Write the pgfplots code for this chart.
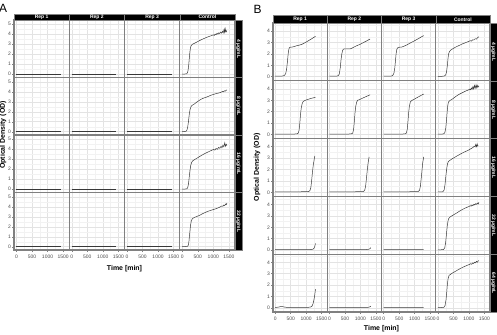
\documentclass[border=0pt]{standalone}
\usepackage{pgfplots}
\pgfplotsset{compat=1.18}
\usepackage{fontspec}
\setmainfont{Liberation Sans}

\definecolor{panelgrid}{gray}{0.89}
\definecolor{panelminor}{gray}{0.95}
\definecolor{panelframe}{gray}{0.50}
\definecolor{ticktext}{gray}{0.30}
\definecolor{trace}{gray}{0.22}

\pgfplotsset{
  facet/.style={
    scale only axis, anchor=north west,
    xmin=-80, xmax=1700,
    xtick={0,500,1000,1500}, minor xtick={250,750,1250},
    grid=both,
    major grid style={draw=panelgrid, line width=0.45bp},
    minor grid style={draw=panelminor, line width=0.35bp},
    axis line style={draw=panelframe, line width=1.3bp},
    tick align=outside, xtick pos=bottom, ytick pos=left,
    major tick length=2bp, minor tick length=0pt,
    tick style={line width=0.4bp},
    x tick style={draw=none}, y tick style={draw=none},
    xticklabels={}, yticklabels={},
    /pgf/number format/assume math mode=true,
    /pgf/number format/1000 sep={},
    ticklabel style={font=\fontsize{5}{5}\selectfont, text=ticktext},
    xticklabel style={inner sep=1bp, yshift=-2bp},
    yticklabel style={inner sep=1bp},
  },
  panelA/.style={facet, width=55.25bp, height=57.5bp,
    ymin=-0.33, ymax=5.43, ytick={0,...,5}, minor ytick={0.5,1.5,...,4.5}},
  panelB/.style={facet, width=54.25bp, height=57.8bp, xmin=-70, xmax=1680,
    ymin=-0.36, ymax=4.71, ytick={0,...,4}, minor ytick={0.5,1.5,...,4.5}},
  leftcol/.style={y tick style={draw=panelframe}, yticklabel={\pgfmathprintnumber{\tick}}},
  bottomrow/.style={x tick style={draw=panelframe}, xticklabel={\pgfmathprintnumber{\tick}}},
  odline/.style={draw=trace, line width=0.5bp, no marks},
}

% one facet: x, y (top-left corner, bp), axis options, growth-curve coordinates
\newcommand{\facet}[4]{%
  \begin{axis}[at={(#1bp,#2bp)}, #3]
    \addplot[odline] coordinates {#4};
  \end{axis}}

\newcommand{\flatA}{(0,0.03)(480,0.03)(960,0.03)(1440,0.03)}

\begin{document}
\begin{tikzpicture}[x=1bp, y=1bp]
\useasboundingbox (0,0) rectangle (497,334);

% ---------------- Panel A ----------------
% 4 ug/mL
\facet{14}{314}{panelA, leftcol}{\flatA}
\facet{69.25}{314}{panelA}{\flatA}
\facet{124.5}{314}{panelA}{\flatA}
\facet{179.75}{314}{panelA}{(0,0.02)(80,0.02)(140,0.04)(165,0.12)(185,0.35)(205,0.8)(225,1.5)(245,2.2)(265,2.65)(290,2.88)(320,2.98)(360,3.05)(420,3.14)(500,3.27)(580,3.4)(660,3.52)(740,3.63)(820,3.73)(900,3.82)(960,3.88)(1000,3.95)(1030,3.88)(1060,4.02)(1090,3.95)(1120,4.1)(1150,4.0)(1180,4.15)(1210,4.08)(1240,4.22)(1270,4.12)(1300,4.3)(1320,4.15)(1345,4.45)(1365,4.2)(1380,4.7)(1395,4.25)(1415,4.38)(1440,4.2)}
% 8 ug/mL
\facet{14}{256.5}{panelA, leftcol}{\flatA}
\facet{69.25}{256.5}{panelA}{\flatA}
\facet{124.5}{256.5}{panelA}{\flatA}
\facet{179.75}{256.5}{panelA}{(0,0.02)(80,0.02)(120,0.04)(150,0.15)(175,0.45)(200,1.0)(225,1.7)(250,2.2)(280,2.5)(320,2.65)(380,2.75)(460,2.95)(540,3.12)(620,3.27)(700,3.38)(785,3.47)(870,3.58)(950,3.68)(1030,3.76)(1110,3.83)(1180,3.88)(1220,3.92)(1260,3.97)(1300,4.03)(1330,4.0)(1360,4.1)(1390,4.06)(1420,4.15)(1440,4.2)}
% 16 ug/mL
\facet{14}{199}{panelA, leftcol}{\flatA}
\facet{69.25}{199}{panelA}{\flatA}
\facet{124.5}{199}{panelA}{\flatA}
\facet{179.75}{199}{panelA}{(0,0.02)(100,0.02)(150,0.04)(175,0.15)(200,0.5)(225,1.2)(250,1.9)(275,2.4)(305,2.7)(340,2.85)(400,2.97)(480,3.12)(560,3.27)(640,3.42)(720,3.56)(800,3.68)(880,3.8)(950,3.9)(1010,3.98)(1050,3.92)(1090,4.08)(1130,4.0)(1170,4.18)(1210,4.1)(1250,4.3)(1280,4.15)(1310,4.4)(1340,4.25)(1370,4.65)(1395,4.3)(1420,4.5)(1440,4.38)}
% 32 ug/mL
\facet{14}{141.5}{panelA, leftcol, bottomrow}{\flatA}
\facet{69.25}{141.5}{panelA, bottomrow}{\flatA}
\facet{124.5}{141.5}{panelA, bottomrow}{\flatA}
\facet{179.75}{141.5}{panelA, bottomrow}{(0,0.02)(100,0.02)(170,0.04)(195,0.15)(215,0.5)(240,1.3)(265,2.1)(290,2.55)(320,2.78)(360,2.88)(420,2.97)(500,3.07)(565,3.15)(650,3.3)(740,3.43)(820,3.54)(900,3.62)(1000,3.72)(1080,3.8)(1150,3.88)(1200,3.95)(1240,4.02)(1280,4.08)(1310,4.05)(1340,4.18)(1370,4.12)(1400,4.28)(1420,4.22)(1440,4.37)}

% ---------------- Panel B ----------------
% 4 ug/mL
\facet{273}{311}{panelB, leftcol}{(0,0.04)(100,0.04)(200,0.05)(260,0.07)(300,0.12)(340,0.27)(370,0.7)(395,1.3)(415,1.9)(430,2.25)(450,2.5)(480,2.58)(550,2.6)(620,2.65)(700,2.72)(780,2.77)(860,2.84)(940,2.95)(1020,3.07)(1100,3.2)(1180,3.33)(1250,3.45)(1300,3.55)}
\facet{327.25}{311}{panelB}{(0,0.04)(120,0.04)(240,0.05)(290,0.1)(320,0.25)(350,0.8)(375,1.5)(400,2.0)(425,2.3)(450,2.42)(520,2.45)(600,2.43)(680,2.45)(740,2.52)(820,2.64)(900,2.74)(990,2.84)(1080,2.97)(1160,3.08)(1240,3.2)(1310,3.3)}
\facet{381.5}{311}{panelB}{(0,0.04)(120,0.04)(240,0.05)(290,0.1)(330,0.3)(360,0.8)(380,1.4)(400,2.0)(420,2.35)(445,2.52)(500,2.58)(580,2.6)(660,2.68)(740,2.78)(820,2.9)(900,3.02)(980,3.13)(1060,3.25)(1140,3.37)(1220,3.5)(1290,3.6)}
\facet{435.75}{311}{panelB}{(0,0.03)(100,0.03)(200,0.05)(250,0.15)(280,0.45)(305,1.0)(325,1.6)(345,2.0)(370,2.2)(410,2.33)(460,2.42)(540,2.55)(620,2.66)(700,2.76)(780,2.87)(860,2.95)(940,3.04)(1000,3.1)(1040,3.16)(1080,3.12)(1120,3.24)(1160,3.22)(1200,3.33)(1240,3.3)(1280,3.42)(1320,3.5)}
% 8 ug/mL
\facet{273}{253.2}{panelB, leftcol}{(0,0.04)(200,0.04)(400,0.04)(600,0.04)(700,0.05)(740,0.1)(770,0.35)(795,1.0)(815,1.7)(840,2.3)(870,2.7)(900,2.88)(940,2.96)(1000,3.03)(1080,3.1)(1160,3.17)(1240,3.22)(1300,3.27)}
\facet{327.25}{253.2}{panelB}{(0,0.04)(200,0.04)(400,0.04)(600,0.04)(700,0.05)(750,0.12)(780,0.45)(805,1.2)(825,1.9)(850,2.5)(880,2.85)(910,3.0)(960,3.05)(1040,3.15)(1120,3.25)(1200,3.35)(1260,3.42)(1312,3.48)}
\facet{381.5}{253.2}{panelB}{(0,0.04)(200,0.04)(400,0.04)(600,0.04)(690,0.05)(730,0.12)(760,0.45)(785,1.2)(805,1.9)(830,2.5)(860,2.85)(900,2.98)(960,3.05)(1040,3.18)(1120,3.3)(1200,3.42)(1290,3.55)}
\facet{435.75}{253.2}{panelB}{(0,0.03)(100,0.03)(180,0.05)(220,0.15)(250,0.5)(275,1.2)(295,1.9)(315,2.5)(340,2.85)(384,2.98)(450,3.08)(520,3.22)(600,3.38)(680,3.52)(760,3.63)(840,3.74)(920,3.84)(980,3.9)(1020,3.98)(1050,3.92)(1080,4.08)(1100,3.95)(1130,4.2)(1150,4.0)(1180,4.3)(1200,4.05)(1230,4.35)(1250,4.1)(1270,4.3)(1290,4.15)(1310,4.25)(1322,4.2)}
% 16 ug/mL
\facet{273}{195.4}{panelB, leftcol}{(0,0.04)(300,0.04)(600,0.04)(900,0.05)(1080,0.06)(1120,0.15)(1150,0.4)(1175,1.0)(1200,1.7)(1225,2.3)(1250,2.75)(1280,3.2)}
\facet{327.25}{195.4}{panelB}{(0,0.04)(300,0.04)(600,0.04)(900,0.05)(1100,0.07)(1140,0.2)(1165,0.5)(1190,1.1)(1215,1.8)(1240,2.4)(1260,2.8)(1280,3.1)}
\facet{381.5}{195.4}{panelB}{(0,0.04)(300,0.04)(600,0.04)(900,0.05)(1120,0.07)(1160,0.2)(1185,0.55)(1210,1.2)(1235,1.9)(1255,2.5)(1275,2.85)(1290,3.1)}
\facet{435.75}{195.4}{panelB}{(0,0.03)(100,0.03)(160,0.05)(200,0.2)(230,0.7)(255,1.4)(280,2.0)(305,2.45)(335,2.7)(384,2.8)(450,2.92)(530,3.05)(610,3.18)(690,3.3)(770,3.42)(850,3.53)(930,3.63)(1000,3.72)(1060,3.82)(1100,3.88)(1140,3.95)(1170,4.05)(1200,3.98)(1220,4.2)(1245,4.0)(1265,4.25)(1285,4.05)(1300,4.1)}
% 32 ug/mL
\facet{273}{137.6}{panelB, leftcol}{(0,0.04)(300,0.04)(600,0.04)(900,0.04)(1150,0.05)(1220,0.08)(1250,0.15)(1275,0.3)(1300,0.58)}
\facet{327.25}{137.6}{panelB}{(0,0.04)(400,0.04)(800,0.04)(1200,0.05)(1280,0.08)(1310,0.13)(1334,0.22)}
\facet{381.5}{137.6}{panelB}{(0,0.04)(400,0.04)(800,0.04)(1290,0.05)}
\facet{435.75}{137.6}{panelB}{(0,0.03)(100,0.03)(180,0.05)(220,0.2)(250,0.7)(275,1.4)(300,2.1)(325,2.55)(350,2.78)(390,2.9)(460,3.02)(540,3.15)(620,3.28)(700,3.42)(780,3.55)(860,3.66)(940,3.76)(1000,3.82)(1040,3.9)(1070,3.85)(1100,3.95)(1130,3.9)(1160,4.02)(1190,3.96)(1220,4.08)(1250,4.02)(1280,4.12)(1300,4.05)(1322,4.2)}
% 64 ug/mL
\facet{273}{79.8}{panelB, leftcol, bottomrow}{(0,0.05)(100,0.06)(150,0.1)(200,0.12)(260,0.1)(320,0.06)(400,0.05)(700,0.05)(1000,0.05)(1120,0.06)(1180,0.12)(1220,0.35)(1250,0.7)(1275,1.1)(1300,1.65)}
\facet{327.25}{79.8}{panelB, bottomrow}{(0,0.04)(400,0.04)(800,0.04)(1250,0.05)(1300,0.09)(1334,0.15)}
\facet{381.5}{79.8}{panelB, bottomrow}{(0,0.04)(600,0.04)(1290,0.05)}
\facet{435.75}{79.8}{panelB, bottomrow}{(0,0.03)(100,0.03)(190,0.05)(230,0.2)(260,0.7)(285,1.4)(305,2.1)(330,2.6)(360,2.85)(410,2.95)(480,3.08)(560,3.2)(640,3.33)(720,3.45)(800,3.56)(880,3.66)(960,3.75)(1020,3.82)(1060,3.88)(1090,3.82)(1120,3.95)(1150,3.9)(1180,4.0)(1210,3.95)(1240,4.08)(1270,4.0)(1300,4.12)(1322,4.15)}

% ---------------- strips ----------------
\tikzset{strip/.style={fill=black, draw=panelframe, line width=0.5bp},
         striptext/.style={text=white, font=\fontsize{5}{5}\selectfont\bfseries, inner sep=0pt}}
\foreach \x/\lab in {14/Rep 1, 69.25/Rep 2, 124.5/Rep 3, 179.75/Control}{
  \path[strip] (\x,314) rectangle ++(55.25,6);
  \node[striptext] at (\x+27.6,317) {\lab};
}
\foreach \y/\lab in {314/4, 256.5/8, 199/16, 141.5/32}{
  \path[strip] (235,\y) rectangle ++(7,-57.5);
  \node[striptext, rotate=-90] at (238.5,\y-28.75) {\lab\ µg/mL};
}
\foreach \x/\lab in {273/Rep 1, 327.25/Rep 2, 381.5/Rep 3, 435.75/Control}{
  \path[strip] (\x,311) rectangle ++(54.25,7.5);
  \node[striptext] at (\x+27.1,314.75) {\lab};
}
\foreach \y/\lab in {311/4, 253.2/8, 195.4/16, 137.6/32, 79.8/64}{
  \path[strip] (490,\y) rectangle ++(7,-57.8);
  \node[striptext, rotate=-90] at (493.5,\y-28.9) {\lab\ µg/mL};
}

% ---------------- titles ----------------
\node[font=\fontsize{12}{12}\selectfont] at (3,326) {A};
\node[font=\fontsize{12}{12}\selectfont] at (257.5,325) {B};
\node[font=\fontsize{7}{7}\selectfont\bfseries, rotate=90] at (3,199) {Optical Density (OD)};
\node[font=\fontsize{7}{7}\selectfont\bfseries, rotate=90] at (257,166.5) {Optical Density (OD)};
\node[font=\fontsize{7}{7}\selectfont\bfseries] at (124.5,65.7) {Time [min]};
\node[font=\fontsize{7}{7}\selectfont\bfseries] at (381.5,5.5) {Time [min]};
\end{tikzpicture}
\end{document}
